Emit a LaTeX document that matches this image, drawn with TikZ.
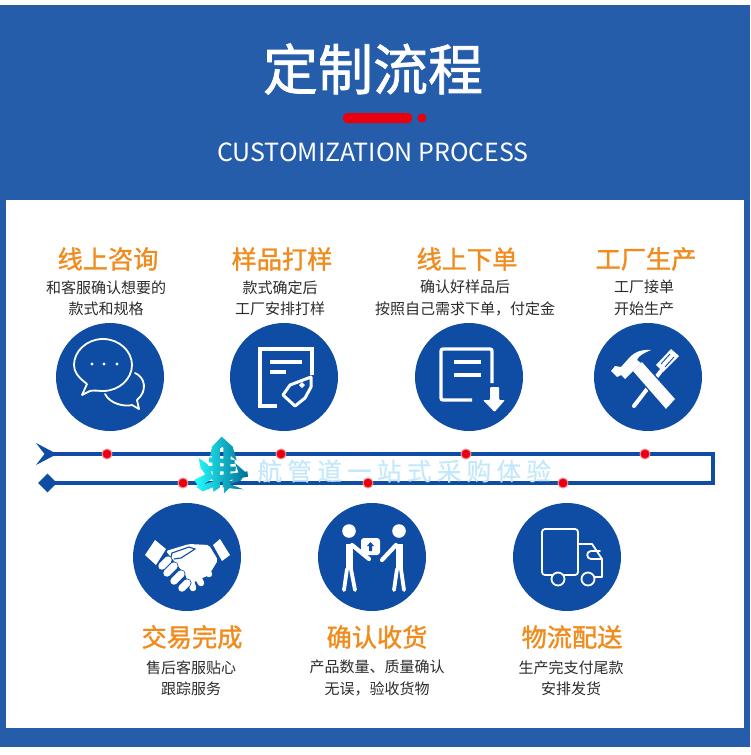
\documentclass[tikz,border=0pt]{standalone}
\usepackage{fontspec}
\usepackage{tikz}
\usetikzlibrary{shapes.geometric}
\setmainfont{Noto Sans CJK SC}
\newfontfamily\wmfont[LetterSpace=22,FakeBold=0.5]{Noto Sans CJK SC}
\newfontfamily\medfont[FakeBold=1.3]{Noto Sans CJK SC}
\definecolor{bandblue}{HTML}{265DAB}
\definecolor{iconblue}{HTML}{0F4CA3}
\definecolor{headorange}{HTML}{F08C1E}
\definecolor{markred}{HTML}{E8000F}
\definecolor{wmblue}{HTML}{C4E8FB}
\definecolor{textgrey}{HTML}{2B2B2B}
\begin{document}
\begin{tikzpicture}[
x=1pt, y=-1pt,
icon/.style={circle, fill=iconblue, minimum size=108pt, inner sep=0pt},
heading/.style={text=headorange, font=\fontsize{25.2}{25}\selectfont\medfont},
desc/.style={text=textgrey, align=center, font=\fontsize{15}{21.5}\selectfont},
flow/.style={draw=iconblue, line width=3.2pt},
dot/.style={circle, fill=markred, draw=markred!45, line width=1pt, minimum size=10pt, inner sep=0pt},
wline/.style={draw=white, line width=1.8pt, line join=round, line cap=round},
wbar/.style={draw=white, line width=3.3pt, line join=miter}
]
\useasboundingbox (0,0) rectangle (750,755);
%Background
\fill[bandblue] (0,5) rectangle (750,747);
\fill[white] (6,200) rectangle (744,728);
%Title
\node[text=white, font=\fontsize{55}{55}\selectfont\medfont] (title) at (373,69) {定制流程};
\node[fill=markred, rounded corners=4pt, minimum width=69pt, minimum height=10pt, inner sep=0pt] (bar) at (377.5,118) {};
\node[circle, fill=markred, minimum size=9pt, inner sep=0pt] (bardot) at (422,118) {};
\node[text=white, font=\fontsize{25}{25}\selectfont] (subtitle) at (373,152) {CUSTOMIZATION PROCESS};
%Nodes
\node[icon] (ask)   at (110,377) {};
\node[icon] (sample) at (284,377) {};
\node[icon] (order) at (469,377) {};
\node[icon] (make)  at (648,377) {};
\node[icon] (done)  at (187,557) {};
\node[icon] (check) at (372,557) {};
\node[icon] (ship)  at (567,557) {};
%Headings
\node[heading] (askh)    at (108,259) {线上咨询};
\node[heading] (sampleh) at (282,259) {样品打样};
\node[heading] (orderh)  at (467,259) {线上下单};
\node[heading] (makeh)   at (646,259) {工厂生产};
\node[heading] (doneh)   at (192,637) {交易完成};
\node[heading] (checkh)  at (377,637) {确认收货};
\node[heading] (shiph)   at (572,637) {物流配送};
%Texts
\node[desc] (askt)    at (106,298) {和客服确认想要的\\款式和规格};
\node[desc] (samplet) at (280,298) {款式确定后\\工厂安排打样};
\node[desc] (ordert)  at (465,298) {确认好样品后\\按照自己需求下单，付定金};
\node[desc] (maket)   at (644,298) {工厂接单\\开始生产};
\node[desc] (donet)   at (191,678) {售后客服贴心\\跟踪服务};
\node[desc] (checkt)  at (377,678) {产品数量、质量确认\\无误，验收货物};
\node[desc] (shipt)   at (571,678) {生产完支付尾款\\安排发货};
%Lines
\coordinate (ltop) at (50,454);
\coordinate (rtop) at (713,454);
\coordinate (rbot) at (713,483);
\coordinate (lbot) at (50,483);
\draw[flow] (ltop) -- (rtop) -- (rbot) -- (lbot);
\fill[iconblue] (36,443) -- (57,454) -- (36,465) -- (44.5,454) -- cycle;
\node[diamond, fill=iconblue, minimum width=19pt, minimum height=19pt, inner sep=0pt] (start) at (47.5,483) {};
\node[dot] (d1) at (107,454) {};
\node[dot] (d2) at (281,454) {};
\node[dot] (d3) at (466,454) {};
\node[dot] (d4) at (645,454) {};
\node[dot] (d5) at (183,483) {};
\node[dot] (d6) at (368,483) {};
\node[dot] (d7) at (563,483) {};
%Watermark
\node[text=wmblue, font=\fontsize{24.5}{25}\selectfont\wmfont, anchor=west] (wm) at (254,471) {航管道一站式采购体验};
\begin{scope}[shift={(190,430)}, x=0.3333pt, y=-0.3333pt]
\shade[left color=cyan!85!white, right color=teal!85!blue]
  (95,20) -- (128,50) -- (140,92) -- (122,78) -- (97,50) -- (60,80) -- (66,50) -- cycle
  (66,68) -- (90,56) -- (90,172) -- (70,186) -- cycle
  (100,52) -- (122,72) -- (120,172) -- (102,190) -- cycle
  (58,82) -- (134,90) -- (134,102) -- (56,97) -- cycle
  (56,108) -- (138,110) -- (136,124) -- (56,124) -- cycle
  (26,84) -- (52,102) -- (74,152) -- (52,142) -- (32,114) -- cycle
  (136,100) -- (168,128) -- (152,152) -- (118,162) -- (146,130) -- cycle
  (12,150) -- (60,126) -- (72,142) -- (28,172) -- cycle
  (84,136) -- (172,124) -- (174,140) -- (88,156) -- cycle
  (18,170) -- (85,150) -- (85,166) -- (38,184) -- cycle
  (98,154) -- (160,178) -- (130,176) -- (98,172) -- cycle;
\end{scope}
%Chat icon
\begin{scope}[shift={(ask)}]
\draw[wline] (-20,14) -- (-28,18) -- (-23,7) .. controls (-32,0) and (-36,-5) .. (-36,-12) .. controls (-36,-26) and (-23,-38) .. (-7,-38) .. controls (9,-38) and (22,-26) .. (22,-12) .. controls (22,2) and (9,14) .. (-7,14) .. controls (-11,14) and (-16,13) .. (-20,14);
\draw[wline] (-5,17) .. controls (0,27) and (15,30) .. (22,28) -- (29,32) -- (27,23) .. controls (38,14) and (35,0) .. (25,-4);
\fill[white] (-18,-13) circle (1.7) (-6,-13) circle (1.7) (7,-13) circle (1.7);
\end{scope}
%Sample icon
\begin{scope}[shift={(sample)}]
\draw[wbar] (-7,29) -- (-24,29) -- (-24,-28) -- (28,-28) -- (28,-2);
\draw[wbar] (-14,-15) -- (18,-15);
\draw[wbar] (-14,-5) -- (2,-5);
\draw[white, line width=3pt, line join=round] (27,0) -- (6,8) -- (-1,18) -- (11,29) -- (21,21) -- (27,10) -- cycle;
\fill[white] (18,5) -- (21,8) -- (18,11) -- (15,8) -- cycle;
\end{scope}
%Order icon
\begin{scope}[shift={(order)}]
\draw[wbar, rounded corners=2pt] (3,23) -- (-28,23) -- (-28,-28) -- (23,-28) -- (23,6);
\draw[wbar] (-15,-15) -- (12,-15);
\draw[wbar] (-15,-2) -- (12,-2);
\fill[white, rounded corners=1pt] (21,10) -- (30,10) -- (30,23) -- (36,23) -- (25.5,35) -- (14,23) -- (21,23) -- cycle;
\end{scope}
%Tool icon
\begin{scope}[shift={(make)}]
\fill[white] (8,-12) -- (23,-28) -- (31,-21) -- (15,-5) -- cycle;
\draw[iconblue, line width=0.9pt] (13,-13) -- (22,-23) (17,-10) -- (26,-20);
\draw[white, line width=4pt, line cap=round] (13,-6) -- (-14,29);
\draw[iconblue, fill=white, line width=1.2pt] (-16,-6) -- (-6,-16) -- (28,22) -- (18,33) -- cycle;
\fill[white] (-37,-6) -- (-33,-11) -- (-27,-10) -- (-18,-20) .. controls (-12,-26) and (-4,-28) .. (3,-27) .. controls (-4,-24) and (-10,-21) .. (-11,-17) -- (-7,-14) -- (-23,2) -- (-27,-2) -- (-31,0) -- cycle;
\end{scope}
%Handshake icon
\begin{scope}[shift={(done)}]
\fill[white] (-42,-2) -- (-32,-17) -- (-21,-8) -- (-31,8) -- cycle;
\fill[white] (26,-12) -- (33,-18) -- (43,-2) -- (35,4) -- cycle;
\fill[white, rounded corners=2pt] (-21,-6) -- (2,-13) -- (22,-12) -- (31,3) -- (22,18) -- (5,26) -- (-5,14) -- cycle;
\draw[white, line width=6.5pt, line cap=round] (6,0) -- (22,17) (3,6) -- (14,26) (0,12) -- (6,31);
\draw[iconblue, line width=9pt, line cap=round] (-25,9) -- (-19,3) (-20,16) -- (-13,9) (-13,24) -- (-6,17) (-5,31) -- (0,26);
\draw[white, line width=7.4pt, line cap=round] (-25,9) -- (-19,3) (-20,16) -- (-13,9) (-13,24) -- (-6,17) (-5,31) -- (0,26);
\draw[iconblue, line width=1.1pt, line cap=round] (-16,0) -- (-15,-4) -- (2,-10) -- (8,-8) -- (-6,1) -- (-13,2);
\end{scope}
%Handover icon
\begin{scope}[shift={(check)}]
\fill[white] (-23,-26) circle (6.8) (27,-26) circle (6.8);
\draw[white, line width=7pt] (-23,-13) -- (-23,12);
\draw[white, line width=7pt] (27,-13) -- (27,12);
\draw[white, line width=4.2pt, line cap=round] (-20,-12) -- (-3,2);
\draw[white, line width=4.2pt, line cap=round] (24,-12) -- (10,3);
\draw[white, line width=3.8pt, line cap=round] (-25,12) -- (-28,33) (-21,12) -- (-17,33);
\draw[white, line width=3.8pt, line cap=round] (25,12) -- (22,33) (29,12) -- (32,33);
\fill[white, rounded corners=3pt] (-11,-19) rectangle (8,-2);
\fill[iconblue] (-1.5,-15) -- (2,-11) -- (0,-11) -- (0,-6) -- (-3,-6) -- (-3,-11) -- (-5,-11) -- cycle;
\end{scope}
%Truck icon
\begin{scope}[shift={(ship)}]
\draw[wline, rounded corners=3pt] (-25,-28) rectangle (11,18);
\draw[wline] (11,-13) -- (25,-13) -- (35,2) -- (35,20) -- (28,20);
\draw[wline] (33,-6) -- (24,-6) .. controls (19,-6) and (19,2) .. (24,2) -- (35,2);
\draw[wline, fill=iconblue] (-9,22) circle (6.5);
\draw[wline, fill=iconblue] (21,22) circle (6.5);
\end{scope}
\end{tikzpicture}
\end{document}
